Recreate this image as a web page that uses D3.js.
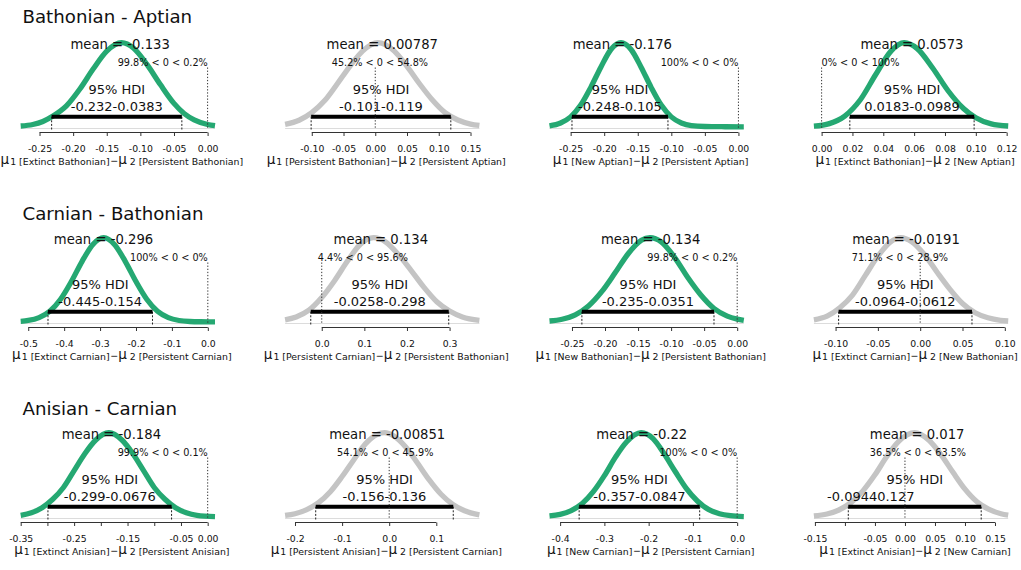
<!DOCTYPE html>
<html><head><meta charset="utf-8">
<script src="https://cdn.jsdelivr.net/npm/d3@7"></script>
<style>
body{margin:0;background:#fff}
svg{display:block}
text{font-family:"DejaVu Sans",Verdana,sans-serif;fill:#111}
</style>
</head><body>
<svg id="c" width="1021" height="570"></svg>
<script>
// ---------------- DATA ----------------
const rowTitles = ["Bathonian - Aptian", "Carnian - Bathonian", "Anisian - Carnian"];

const group1 = ["Extinct Bathonian","Persistent Bathonian","New Aptian","Extinct Bathonian",
                "Extinct Carnian","Persistent Carnian","New Bathonian","Extinct Carnian",
                "Extinct Anisian","Persistent Anisian","New Carnian","Extinct Anisian"];
const group2 = ["Persistent Bathonian","Persistent Aptian","Persistent Aptian","New Aptian",
                "Persistent Carnian","Persistent Bathonian","Persistent Bathonian","New Bathonian",
                "Persistent Anisian","Persistent Carnian","Persistent Carnian","New Carnian"];

const meanLabels = ["-0.133","0.00787","-0.176","0.0573",
                    "-0.296","0.134","-0.134","-0.0191",
                    "-0.184","-0.00851","-0.22","0.017"];
const meanValues = [-0.133,0.00787,-0.176,0.0573,-0.296,0.134,-0.134,-0.0191,-0.184,-0.00851,-0.22,0.017];

const hdiLow  = [-0.232,-0.101,-0.248,0.0183,-0.445,-0.0258,-0.235,-0.0964,-0.299,-0.156,-0.357,-0.0944];
const hdiHigh = [-0.0383,0.119,-0.105,0.0989,-0.154,0.298,-0.0351,0.0612,-0.0676,0.136,-0.0847,0.127];
const hdiLabels = ["-0.232-0.0383","-0.101-0.119","-0.248-0.105","0.0183-0.0989",
                   "-0.445-0.154","-0.0258-0.298","-0.235-0.0351","-0.0964-0.0612",
                   "-0.299-0.0676","-0.156-0.136","-0.357-0.0847","-0.09440.127"];
// where the HDI number label is centred (data units); null = centre of HDI
const hdiLabelAt = [null,null,null,null,null,null,null,null,null,null,null,-0.057];

const compValue = 0;
const pctBelow = [99.8,45.2,100,0,100,4.4,99.8,71.1,99.9,54.1,100,36.5];
const pctAbove = [0.2,54.8,0,100,0,95.6,0.2,28.9,0.1,45.9,0,63.5];

// 1 = HDI excludes zero (green), 0 = includes zero (grey)
const credible = [1,0,1,1, 1,0,1,0, 1,0,1,0];

// range of the posterior samples (x extent of each density)
const sampleMin = [-0.278,-0.142,-0.2815,-0.005,-0.521,-0.086,-0.284,-0.1256,-0.35,-0.221,-0.424,-0.1517];
const sampleMax = [0.011,0.164,0.008,0.121,0.020,0.370,0.010,0.104,0.0137,0.1915,0.015,0.172];

const tickValues = [
  [-0.25,-0.20,-0.15,-0.10,-0.05,0.00],
  [-0.10,-0.05,0.00,0.05,0.10,0.15],
  [-0.25,-0.20,-0.15,-0.10,-0.05,0.00],
  [0.00,0.02,0.04,0.06,0.08,0.10,0.12],
  [-0.5,-0.4,-0.3,-0.2,-0.1,0.0],
  [0.0,0.1,0.2,0.3],
  [-0.25,-0.20,-0.15,-0.10,-0.05,0.00],
  [-0.10,-0.05,0.00,0.05,0.10],
  [-0.35,-0.30,-0.25,-0.20,-0.15,-0.10,-0.05,0.00],
  [-0.2,-0.1,0.0,0.1],
  [-0.4,-0.3,-0.2,-0.1,0.0],
  [-0.15,-0.10,-0.05,0.00,0.05,0.10,0.15]
];
const tickLabels = [
  ["-0.25","-0.20","-0.15","-0.10","-0.05","0.00"],
  ["-0.10","-0.05","0.00","0.05","0.10","0.15"],
  ["-0.25","-0.20","-0.15","-0.10","-0.05","0.00"],
  ["0.00","0.02","0.04","0.06","0.08","0.10","0.12"],
  ["-0.5","-0.4","-0.3","-0.2","-0.1","0.0"],
  ["0.0","0.1","0.2","0.3"],
  ["-0.25","-0.20","-0.15","-0.10","-0.05","0.00"],
  ["-0.10","-0.05","0.00","0.05","0.10"],
  ["-0.35","","-0.25","","-0.15","","-0.05","0.00"],
  ["-0.2","-0.1","0.0","0.1"],
  ["-0.4","-0.3","-0.2","-0.1","0.0"],
  ["-0.15","","-0.05","0.00","0.05","0.10","0.15"]
];

// posterior densities: [difference, density relative to peak]
const densities = [
  [[-0.278,0.012],[-0.26,0.03],[-0.245,0.066],[-0.23,0.13],[-0.21,0.25],[-0.19,0.45],[-0.17,0.69],[-0.15,0.90],[-0.128,1.0],[-0.11,0.935],[-0.09,0.74],[-0.07,0.50],[-0.05,0.28],[-0.035,0.16],[-0.02,0.085],[0.0,0.03],[0.011,0.015]],
  [[-0.142,0.032],[-0.12,0.08],[-0.10,0.17],[-0.08,0.31],[-0.06,0.51],[-0.04,0.72],[-0.02,0.90],[0.004,1.0],[0.03,0.90],[0.05,0.72],[0.07,0.51],[0.09,0.32],[0.11,0.17],[0.13,0.083],[0.15,0.035],[0.164,0.018]],
  [[-0.2815,0.014],[-0.265,0.048],[-0.25,0.12],[-0.235,0.26],[-0.22,0.47],[-0.205,0.71],[-0.19,0.92],[-0.175,1.0],[-0.16,0.92],[-0.145,0.71],[-0.13,0.47],[-0.115,0.26],[-0.10,0.12],[-0.085,0.048],[-0.07,0.016],[-0.05,0.006],[-0.02,0.003],[0.008,0.002]],
  [[-0.005,0.01],[0.005,0.04],[0.015,0.13],[0.025,0.32],[0.035,0.62],[0.045,0.90],[0.0535,1.0],[0.062,0.93],[0.072,0.70],[0.082,0.43],[0.092,0.22],[0.10,0.11],[0.11,0.037],[0.121,0.012]],
  [[-0.521,0.008],[-0.50,0.018],[-0.47,0.052],[-0.44,0.127],[-0.41,0.27],[-0.38,0.48],[-0.35,0.72],[-0.32,0.92],[-0.29,1.0],[-0.26,0.92],[-0.23,0.72],[-0.20,0.48],[-0.17,0.27],[-0.14,0.127],[-0.11,0.052],[-0.08,0.018],[-0.05,0.006],[-0.02,0.003],[0.02,0.002]],
  [[-0.086,0.026],[-0.06,0.06],[-0.03,0.14],[0.0,0.29],[0.03,0.49],[0.06,0.72],[0.09,0.92],[0.122,1.0],[0.15,0.95],[0.18,0.80],[0.21,0.61],[0.24,0.41],[0.27,0.24],[0.30,0.13],[0.33,0.06],[0.37,0.02]],
  [[-0.284,0.012],[-0.265,0.033],[-0.245,0.085],[-0.225,0.19],[-0.205,0.36],[-0.185,0.58],[-0.165,0.81],[-0.145,0.97],[-0.132,1.0],[-0.115,0.95],[-0.095,0.77],[-0.075,0.53],[-0.055,0.32],[-0.035,0.16],[-0.015,0.07],[0.0,0.035],[0.01,0.02]],
  [[-0.1256,0.026],[-0.11,0.07],[-0.095,0.17],[-0.08,0.32],[-0.065,0.55],[-0.05,0.78],[-0.035,0.95],[-0.023,1.0],[-0.01,0.95],[0.005,0.80],[0.02,0.59],[0.035,0.39],[0.05,0.22],[0.065,0.11],[0.08,0.05],[0.095,0.02],[0.104,0.012]],
  [[-0.35,0.02],[-0.33,0.05],[-0.31,0.11],[-0.29,0.21],[-0.27,0.35],[-0.25,0.55],[-0.23,0.75],[-0.21,0.91],[-0.185,1.0],[-0.16,0.91],[-0.14,0.75],[-0.12,0.55],[-0.10,0.35],[-0.08,0.21],[-0.06,0.11],[-0.04,0.05],[-0.02,0.02],[0.0137,0.005]],
  [[-0.221,0.018],[-0.2,0.039],[-0.175,0.087],[-0.15,0.17],[-0.125,0.30],[-0.1,0.48],[-0.075,0.68],[-0.05,0.87],[-0.025,0.98],[-0.01,1.0],[0.01,0.96],[0.035,0.83],[0.06,0.64],[0.085,0.44],[0.11,0.27],[0.135,0.15],[0.16,0.074],[0.1915,0.026]],
  [[-0.424,0.012],[-0.40,0.031],[-0.375,0.076],[-0.35,0.16],[-0.325,0.30],[-0.30,0.49],[-0.275,0.71],[-0.25,0.89],[-0.217,1.0],[-0.19,0.93],[-0.165,0.75],[-0.14,0.54],[-0.115,0.34],[-0.09,0.19],[-0.065,0.09],[-0.04,0.039],[-0.015,0.015],[0.015,0.004]],
  [[-0.1517,0.012],[-0.13,0.036],[-0.11,0.083],[-0.09,0.17],[-0.07,0.31],[-0.05,0.50],[-0.03,0.72],[-0.01,0.90],[0.016,1.0],[0.04,0.91],[0.06,0.74],[0.08,0.53],[0.10,0.33],[0.12,0.18],[0.14,0.09],[0.16,0.039],[0.172,0.022]]
];

// ---------------- LAYOUT / STYLE ----------------
const GREEN = "#25a872", GREY = "#c4c4c4";
const COL_LEFT = 20.7, COL_PITCH = 264.4, PLOT_W = 194.3;
const ROW_TOP = [0, 195, 390];
const TITLE_BASE = [22.7, 220, 415];

const svg = d3.select("#c");

rowTitles.forEach((t, r) => {
  svg.append("text").attr("x", 22.5).attr("y", TITLE_BASE[r])
    .attr("font-size", 18.2).text(t);
});

densities.forEach((dens, i) => {
  const r = Math.floor(i / 4), c = i % 4;
  const top = ROW_TOP[r];
  const left = COL_LEFT + COL_PITCH * c;
  const x = d3.scaleLinear().domain([sampleMin[i], sampleMax[i]]).range([left, left + PLOT_W]);
  const y = d3.scaleLinear().domain([0, 1]).range([top + 127, top + 42.7]);
  const g = svg.append("g");

  // light baseline
  g.append("line")
    .attr("x1", x(sampleMin[i])).attr("x2", x(sampleMax[i]))
    .attr("y1", top + 128.5).attr("y2", top + 128.5)
    .attr("stroke", "#dcdcdc").attr("stroke-width", 1);

  // density curve
  const line = d3.line().x(d => x(d[0])).y(d => y(d[1])).curve(d3.curveMonotoneX);
  g.append("path").datum(dens).attr("d", line)
    .attr("fill", "none").attr("stroke", credible[i] ? GREEN : GREY)
    .attr("stroke-width", 5.3).attr("stroke-linecap", "butt").attr("stroke-linejoin", "round");

  // HDI bar + dashed drops
  const barY = top + 116.7;
  [hdiLow[i], hdiHigh[i]].forEach(v => {
    g.append("line").attr("x1", x(v)).attr("x2", x(v))
      .attr("y1", barY).attr("y2", top + 129.5)
      .attr("stroke", "#222").attr("stroke-width", 1).attr("stroke-dasharray", "2,1.6");
  });
  g.append("line").attr("x1", x(hdiLow[i])).attr("x2", x(hdiHigh[i]))
    .attr("y1", barY).attr("y2", barY)
    .attr("stroke", "#000").attr("stroke-width", 4);

  // comparison value dotted line
  g.append("line").attr("x1", x(compValue)).attr("x2", x(compValue))
    .attr("y1", top + 67.5).attr("y2", top + 129)
    .attr("stroke", "#333").attr("stroke-width", 1).attr("stroke-dasharray", "1.3,1.8");

  // axis
  const tv = tickValues[i], tl = tickLabels[i];
  const ax = g.append("g").attr("transform", `translate(0,${top + 132.5})`)
    .call(d3.axisBottom(x).tickValues(tv).tickFormat((d, k) => tl[k])
      .tickSize(3.5).tickPadding(9.4));
  ax.select(".domain").remove();
  ax.selectAll(".tick line").attr("stroke", "#333");
  ax.selectAll(".tick text").attr("font-size", 9.3).attr("fill", "#222")
    .attr("font-family", '"DejaVu Sans",Verdana,sans-serif');
  ax.append("line").attr("x1", x(tv[0])).attr("x2", x(tv[tv.length - 1]))
    .attr("y1", 0).attr("y2", 0).attr("stroke", "#333").attr("stroke-width", 1);

  // mean label
  g.append("text").attr("x", x(meanValues[i]) + 2).attr("y", top + 49.3)
    .attr("text-anchor", "middle").attr("font-size", 13.2)
    .text("mean = " + meanLabels[i]);

  // comparison label, placed so pctBelow% of it is left of the comparison value
  const ct = g.append("text").attr("y", top + 66).attr("font-size", 9.7)
    .text(`${pctBelow[i]}% < ${compValue} < ${pctAbove[i]}%`);
  const w = ct.node().getComputedTextLength();
  ct.attr("x", x(compValue) - w * pctBelow[i] / 100);

  // HDI labels
  const mid = (hdiLow[i] + hdiHigh[i]) / 2;
  g.append("text").attr("x", x(mid)).attr("y", top + 94.3)
    .attr("text-anchor", "middle").attr("font-size", 13).text("95% HDI");
  const at = hdiLabelAt[i] === null ? mid : hdiLabelAt[i];
  g.append("text").attr("x", x(at)).attr("y", top + 111)
    .attr("text-anchor", "middle").attr("font-size", 13).text(hdiLabels[i]);

  // x label: mu[1 [g1]] - mu[2 [g2]]
  const xl = g.append("text").attr("x", left + PLOT_W / 2 + 4).attr("y", top + 164.3)
    .attr("text-anchor", "middle");
  xl.append("tspan").attr("font-size", 13.5).text("\u03bc");
  xl.append("tspan").attr("font-size", 9.4).attr("dy", 1).attr("dx", 1).text("1 [" + group1[i] + "]");
  xl.append("tspan").attr("font-size", 9.5).attr("dy", -1).attr("dx", 0.5).text("\u2212");
  xl.append("tspan").attr("font-size", 13.5).text("\u03bc");
  xl.append("tspan").attr("font-size", 9.4).attr("dy", 1).text(" 2 [" + group2[i] + "]");
});
</script>
</body></html>
